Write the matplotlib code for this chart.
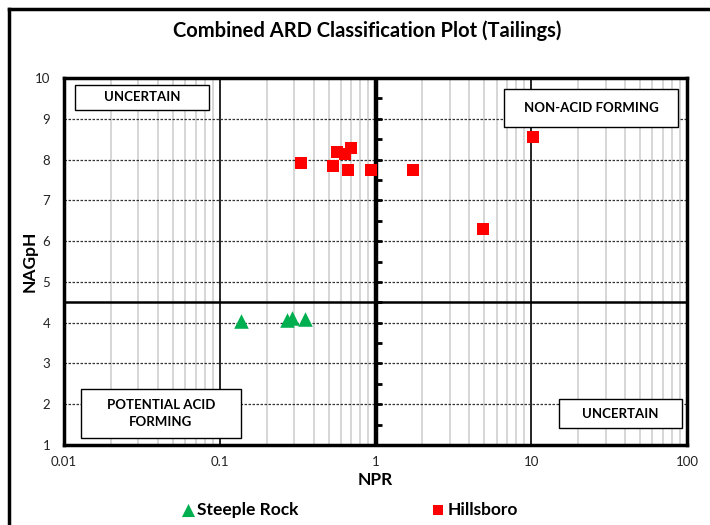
import matplotlib
matplotlib.use("Agg")
import matplotlib.pyplot as plt
from matplotlib.patches import Rectangle
from matplotlib.lines import Line2D
import numpy as np

plt.rcParams['font.family'] = ['Lato', 'DejaVu Sans']

# Data
steeple_npr = [0.137, 0.27, 0.29, 0.355]
steeple_ph = [4.03, 4.07, 4.12, 4.1]
hills_npr = [0.334, 0.57, 0.64, 0.70, 0.537, 0.67, 0.93, 1.73, 4.88, 10.2]
hills_ph = [7.92, 8.19, 8.14, 8.28, 7.84, 7.75, 7.75, 7.75, 6.3, 8.55]

npr_threshold = 1.0
ph_threshold = 4.5
x_ticks = [0.01, 0.1, 1, 10, 100]
x_ticklabels = ['0.01', '0.1', '1', '10', '100']
y_ticks = [1, 2, 3, 4, 5, 6, 7, 8, 9, 10]

fig = plt.figure(figsize=(7.1, 5.25), dpi=100)
ax = fig.add_axes([64/710, 1-445/525, 623/710, 367/525])
ax.set_xscale('log')
ax.set_xlim(0.01, 100)
ax.set_ylim(1, 10)

# minor vertical gridlines
for d in [0.01, 0.1, 1, 10]:
    for m in range(2, 10):
        ax.axvline(d*m, color='#d0d0d0', lw=1.2, zorder=0)
for v in [0.1, 10]:
    ax.axvline(v, color='black', lw=1.2, zorder=1)
# horizontal dotted gridlines
for yv in y_ticks[1:-1]:
    ax.axhline(yv, color='#333333', lw=0.9, ls=(0, (2, 1.2)), zorder=1)
ax.axvline(npr_threshold, color='black', lw=3.2, zorder=2)
ax.axhline(ph_threshold, color='black', lw=1.8, zorder=2)
yt = np.arange(1, 10.01, 0.5)
ax.plot([npr_threshold]*len(yt), yt, ls='none', marker=1, ms=4, mew=2, color='black', zorder=2)

ax.set_xticks(x_ticks)
ax.set_xticklabels(x_ticklabels)
ax.set_yticks(y_ticks)
ax.xaxis.set_minor_locator(matplotlib.ticker.NullLocator())
ax.tick_params(length=0, labelsize=9.5, pad=8, labelcolor='#222222')
ax.tick_params(axis='y', pad=10)
for s in ax.spines.values():
    s.set_linewidth(2.5)
    s.set_zorder(5)

ax.scatter(steeple_npr, steeple_ph, marker='^', s=110, color='#00B050', zorder=6, label='Steeple Rock', linewidths=0)
ax.scatter(hills_npr, hills_ph, marker='s', s=75, color='#FF0000', zorder=6, label='Hillsboro', linewidths=0)

def box(x0, x1, y0, y1, text):
    ax.add_patch(Rectangle((x0, y0), x1-x0, y1-y0, transform=ax.transAxes,
                           facecolor='white', edgecolor='black', lw=1.0, zorder=4))
    ax.text((x0+x1)/2, (y0+y1)/2, text, transform=ax.transAxes, ha='center', va='center',
            fontsize=9.5, fontweight='bold', color='black', zorder=7, linespacing=1.5)

box(0.0177, 0.233, 0.913, 0.981, 'UNCERTAIN')
box(0.706, 0.986, 0.866, 0.970, 'NON-ACID FORMING')
box(0.027, 0.284, 0.019, 0.153, 'POTENTIAL ACID\nFORMING')
box(0.795, 0.992, 0.046, 0.125, 'UNCERTAIN')

ax.set_xlabel('NPR', fontsize=12.5, fontweight='bold', labelpad=3)
ax.set_ylabel('NAGpH', fontsize=12.5, fontweight='bold', labelpad=-2)

fig.text(367/710, 1-31/525, 'Combined ARD Classification Plot (Tailings)', ha='center', va='center',
         fontsize=14.5, fontweight='bold')

h, l = ax.get_legend_handles_labels()
fig.legend(h, l, loc='center', bbox_to_anchor=(349/710, 1-510/525), ncol=2, frameon=False,
           prop={'weight': 'bold', 'size': 12.5}, columnspacing=7.6, handletextpad=0.1,
           handlelength=0.9, markerscale=0.9)

# outer frame
fig.add_artist(Line2D([9/710, 9/710], [0, 1-9/525], transform=fig.transFigure, color='black', lw=2.5))
fig.add_artist(Line2D([9/710, 1], [1-9/525, 1-9/525], transform=fig.transFigure, color='black', lw=2.5))

fig.savefig('out.png', dpi=100)
